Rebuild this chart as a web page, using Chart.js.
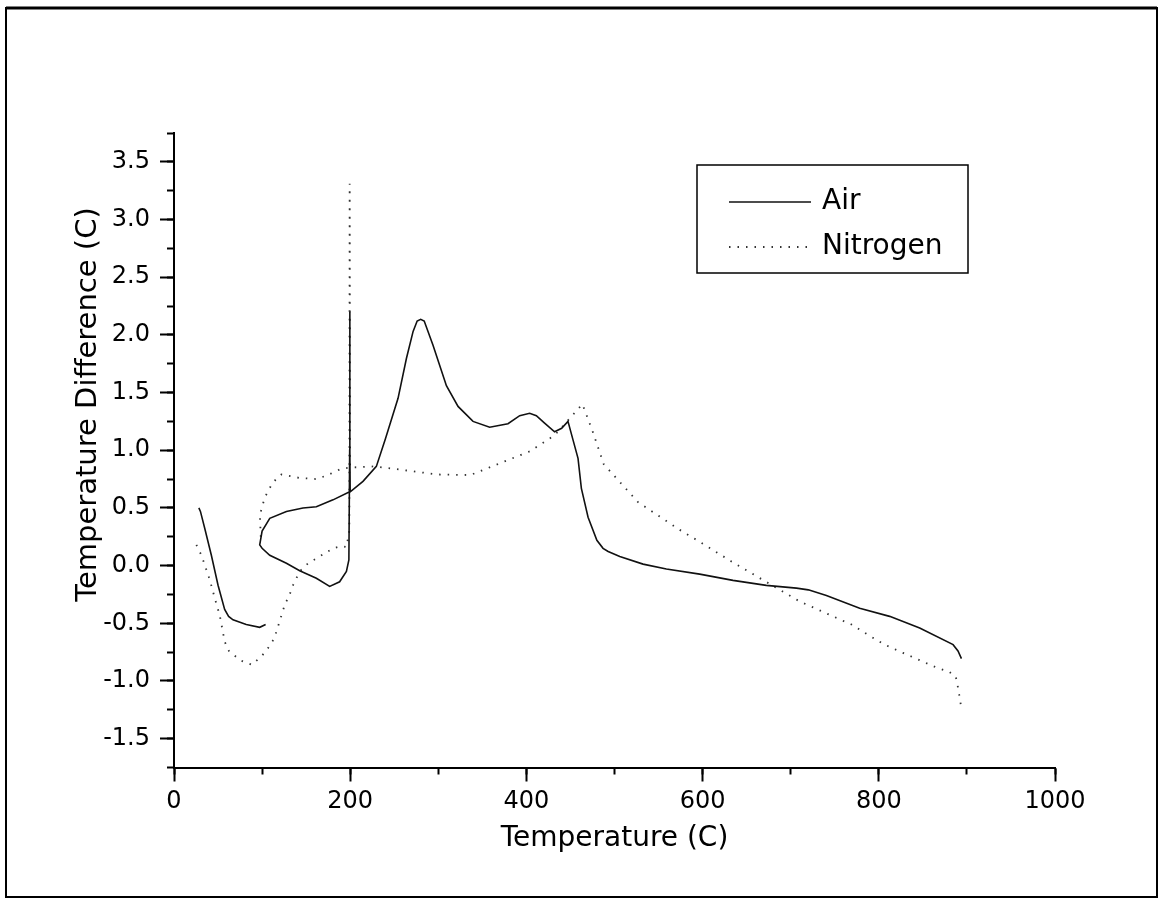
<!DOCTYPE html>
<html>
<head>
<meta charset="utf-8">
<title>DTA - Air vs Nitrogen</title>
<script src="https://cdn.jsdelivr.net/npm/chart.js@4.4.1/dist/chart.umd.min.js"></script>
<style>
  html, body { margin: 0; padding: 0; background: #fff; }
  #wrap { position: relative; width: 1163px; height: 901px; }
</style>
</head>
<body>
<div id="wrap"><canvas id="dtaChart"></canvas></div>
<script>
// temperature (C) and temperature difference (C); null = pen lifted
const airTemp = [28.2, 30, 35, 42.4, 50, 57.5, 62, 67, 82, 97.3, 104,
  null,
  199.4, 180.5, 161.6, 146.4, 127.6, 108.7, 100, 97.3,
  100, 108.7, 127.6, 142.7, 161.6, 176.7, 188, 195.7, 198.5, 199.4, 199.5, 199.7, 200,
  214.5, 229.7, 240, 254.3, 263.8, 271.4, 276, 280, 284, 294, 309.2, 322.4, 339.4,
  358.3, 379.1, 392.4, 403.7, 411.3, 420, 432, 440, 447.2, 452.9, 458.6, 462.4,
  470, 480, 487, 492.8, 506, 532.4, 558.9, 596.7, 634.5, 672.3, 706.5, 720,
  740.5, 778.3, 812.3, 846.4, 884.3, 889.9, 893.8];
const airDiff = [0.50, 0.47, 0.32, 0.09, -0.17, -0.38, -0.44, -0.47, -0.51, -0.535, -0.51,
  null,
  0.64, 0.57, 0.51, 0.50, 0.47, 0.41, 0.30, 0.18,
  0.15, 0.09, 0.02, -0.045, -0.11, -0.18, -0.14, -0.05, 0.05, 1.0, 2.2, 1.0, 0.64,
  0.73, 0.86, 1.1, 1.45, 1.795, 2.03, 2.12, 2.135, 2.12, 1.91, 1.56, 1.38, 1.25,
  1.20, 1.23, 1.30, 1.32, 1.30, 1.24, 1.16, 1.19, 1.25, 1.09, 0.93, 0.67,
  0.42, 0.22, 0.15, 0.123, 0.08, 0.013, -0.03, -0.074, -0.128, -0.171, -0.195, -0.21,
  -0.26, -0.37, -0.44, -0.54, -0.685, -0.74, -0.806];

const n2Temp = [25.4, 31.1, 40.5, 46.2, 51.9, 57.6, 62.4, 75, 88.5, 100, 109.8, 114.3,
  120, 125.7, 131.3, 135.1, 142.7, 152.1, 165.4, 180.5, 190, 195.7, 199, 199.4, 199.8,
  227.8, 248.6, 278.9, 297.8, 336.4, 403.7, 432.1, 452, 463.5, 474.9, 487.7,
  526.7, 574, 603.5, 632.7, 710, 729.2, 748, 768.9, 787.8, 806.6, 827.5, 846.4,
  867.2, 878.6, 887.3, 890, 893.8,
  null,
  98.5, 97.5, 103, 112, 121.9, 142.7, 161.6, 173, 190, 199.4];
const n2Diff = [0.18, 0.09, -0.12, -0.28, -0.43, -0.66, -0.74, -0.82, -0.86, -0.78, -0.685, -0.62,
  -0.48, -0.34, -0.25, -0.17, -0.05, 0.02, 0.08, 0.15, 0.17, 0.16, 0.3, 3.31, 0.85,
  0.86, 0.84, 0.81, 0.79, 0.785, 0.99, 1.13, 1.3, 1.40, 1.17, 0.88,
  0.55, 0.31, 0.175, 0.036, -0.31, -0.375, -0.44, -0.51, -0.60, -0.685, -0.757, -0.82,
  -0.89, -0.915, -0.96, -1.06, -1.24,
  null,
  0.25, 0.44, 0.59, 0.72, 0.79, 0.76, 0.75, 0.78, 0.84, 0.85];

const seriesNames = ['Air', 'Nitrogen'];
const xRange = [0, 1000];
const yRange = [-1.75, 3.75];
const yLabelTicks = [-1.5, -1.0, -0.5, 0.0, 0.5, 1.0, 1.5, 2.0, 2.5, 3.0, 3.5];

const toPoints = (xs, ys) => xs.map((x, i) => ({ x: x, y: ys[i] }));

const FONT = 'DejaVu Sans';

// outer frame, rotated y title and boxed legend
const decorations = {
  id: 'decorations',
  afterDraw(chart, args, opts) {
    const ctx = chart.ctx;
    const area = chart.chartArea;
    ctx.save();
    ctx.strokeStyle = '#000';
    ctx.lineWidth = 2;
    ctx.strokeRect(6, 8, 1151, 889);
    ctx.lineWidth = 3;
    ctx.beginPath(); ctx.moveTo(6, 8); ctx.lineTo(1157, 8); ctx.stroke();

    // y axis title
    ctx.fillStyle = '#000';
    ctx.font = '29px "' + FONT + '"';
    ctx.textAlign = 'center';
    ctx.textBaseline = 'middle';
    ctx.translate(88, area.top + (area.bottom - area.top) * 0.428);
    ctx.rotate(-Math.PI / 2);
    ctx.fillText(opts.yTitle, 0, 0);
    ctx.restore();

    // legend
    const b = opts.box;
    ctx.save();
    ctx.strokeStyle = '#000';
    ctx.lineWidth = 1.5;
    ctx.strokeRect(b.x, b.y, b.w, b.h);
    ctx.font = '28px "' + FONT + '"';
    ctx.textBaseline = 'middle';
    ctx.fillStyle = '#000';
    chart.data.datasets.forEach((ds, i) => {
      const ly = b.y + 37 + i * 45;
      ctx.beginPath();
      ctx.setLineDash(ds.borderDash || []);
      ctx.strokeStyle = ds.borderColor;
      ctx.lineWidth = ds.borderWidth;
      ctx.moveTo(b.x + 32, ly);
      ctx.lineTo(b.x + 114, ly);
      ctx.stroke();
      ctx.setLineDash([]);
      ctx.fillText(ds.label, b.x + 125, ly);
    });
    ctx.restore();
  }
};

const majorGrid = { display: true, drawOnChartArea: false, drawTicks: true, tickLength: 14, tickWidth: 2, tickColor: '#000' };
const minorGrid = { display: true, drawOnChartArea: false, drawTicks: true, tickLength: 7, tickWidth: 2, tickColor: '#000' };

new Chart(document.getElementById('dtaChart'), {
  type: 'scatter',
  data: {
    datasets: [
      {
        label: seriesNames[0],
        data: toPoints(airTemp, airDiff),
        showLine: true,
        borderColor: '#111',
        borderWidth: 1.6,
        pointRadius: 0,
        spanGaps: false
      },
      {
        label: seriesNames[1],
        data: toPoints(n2Temp, n2Diff),
        showLine: true,
        borderColor: '#333',
        borderWidth: 1.8,
        borderDash: [1.5, 7],
        pointRadius: 0,
        spanGaps: false
      }
    ]
  },
  options: {
    responsive: true,
    maintainAspectRatio: false,
    animation: false,
    events: [],
    layout: { padding: { top: 133, right: 108, left: 0, bottom: 0 } },
    scales: {
      x: {
        type: 'linear', position: 'bottom', weight: 1,
        min: xRange[0], max: xRange[1],
        grid: majorGrid,
        border: { display: true, width: 2, color: '#000' },
        ticks: {
          stepSize: 200, padding: 6, color: '#000', font: { family: FONT, size: 24 },
          callback: v => String(v)
        },
        title: { display: true, text: 'Temperature (C)', color: '#000', font: { family: FONT, size: 28 }, padding: { top: 0, bottom: 45 } },
        afterFit: s => { s.height = 133.5; }
      },
      xMinor: {
        type: 'linear', position: 'bottom', weight: 0,
        min: xRange[0], max: xRange[1],
        grid: minorGrid,
        border: { display: false },
        ticks: { stepSize: 100, display: false },
        afterFit: s => { s.height = 0; }
      },
      y: {
        type: 'linear', position: 'left', weight: 1,
        min: yRange[0], max: yRange[1],
        grid: majorGrid,
        border: { display: true, width: 2, color: '#000' },
        ticks: {
          padding: 10, color: '#000', font: { family: FONT, size: 24 },
          callback: v => v.toFixed(1)
        },
        afterBuildTicks: s => {
          s.ticks = yLabelTicks.map(v => ({ value: v }));
        },
        afterFit: s => { s.width = 174; }
      },
      yMinor: {
        type: 'linear', position: 'left', weight: 0,
        min: yRange[0], max: yRange[1],
        grid: minorGrid,
        border: { display: false },
        ticks: { stepSize: 0.25, display: false },
        afterFit: s => { s.width = 0; }
      }
    },
    plugins: {
      legend: { display: false },
      tooltip: { enabled: false },
      decorations: {
        yTitle: 'Temperature Difference (C)',
        box: { x: 697, y: 165, w: 271, h: 108 }
      }
    }
  },
  plugins: [decorations]
});
</script>
</body>
</html>
